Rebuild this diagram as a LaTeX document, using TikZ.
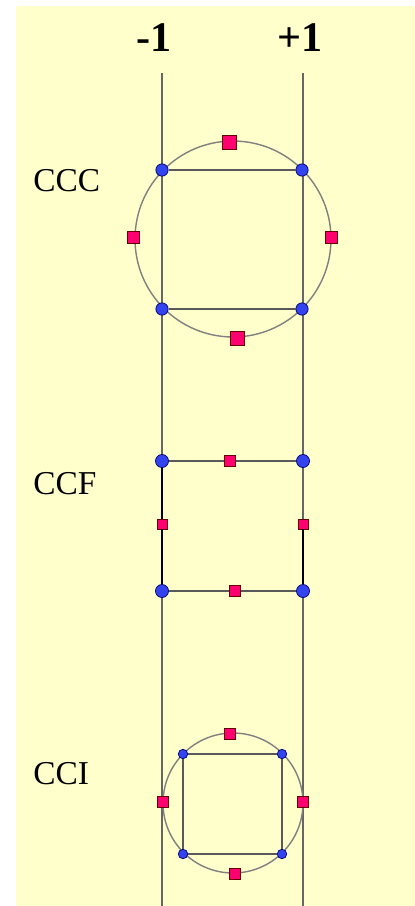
\documentclass[tikz,border=0pt]{standalone}
\usepackage{fontspec}
\setmainfont{Liberation Serif}
\definecolor{paper}{HTML}{FFFFCC}
\definecolor{dotblue}{HTML}{3344EE}
\definecolor{dotpink}{HTML}{FF0070}
\begin{document}
\begin{tikzpicture}[
    x=0.02cm, y=-0.02cm,
    bnode/.style={circle, draw=blue!45!black, fill=dotblue, inner sep=0pt,
                  minimum size=6.3pt},
    pnode/.style={rectangle, draw=red!40!black, fill=dotpink, inner sep=0pt,
                  minimum size=6.3pt},
    ring/.style={circle, draw=black!50, line width=0.8pt, inner sep=0pt},
    axis/.style={draw=black!60, line width=1pt},
    edge/.style={draw=black!65, line width=0.9pt},
    dark/.style={draw=black, line width=1pt},
    lbl/.style={anchor=west, inner sep=0pt, font=\fontsize{19}{22}\selectfont},
    sgn/.style={inner sep=0pt, font=\bfseries\fontsize{24}{28}\selectfont},
]
\useasboundingbox (0,0) rectangle (415,906);
\fill[white] (0,0) rectangle (415,906);
\fill[paper] (16,6) rectangle (415,906);

% Axis labels and the two vertical lines
\node[sgn] (neg) at (154,37.5) {-1};
\node[sgn] (pos) at (300,37.5) {+1};
\coordinate (negtop) at (162,73);
\coordinate (negbot) at (162,906);
\coordinate (postop) at (303,73);
\coordinate (posbot) at (303,906);
\draw[axis] (negtop) -- (negbot);
\draw[axis] (postop) -- (posbot);

% Row labels
\node[lbl] (ccc) at (33,181) {CCC};
\node[lbl] (ccf) at (33,484) {CCF};
\node[lbl] (cci) at (33,774) {CCI};

% CCC: circumscribed
\node[ring, minimum size=3.92cm] (cccring) at (233,239) {};
\node[bnode, minimum size=7pt] (cTL) at (162,170) {};
\node[bnode, minimum size=7pt] (cTR) at (302,170) {};
\node[bnode, minimum size=7pt] (cBL) at (162,309) {};
\node[bnode, minimum size=7pt] (cBR) at (302,309) {};
\node[pnode, minimum size=7.8pt] (cT) at (229,142) {};
\node[pnode, minimum size=7.8pt] (cB) at (237,338) {};
\node[pnode, minimum size=7pt] (cL) at (133,237) {};
\node[pnode, minimum size=7pt] (cR) at (331,237) {};
\draw[edge] (cTL) -- (cTR);
\draw[edge] (cBL) -- (cBR);

% CCF: face centred
\node[bnode, minimum size=7.4pt] (fTL) at (162,461) {};
\node[bnode, minimum size=7.4pt] (fTR) at (303,461) {};
\node[bnode, minimum size=7.4pt] (fBL) at (162,591) {};
\node[bnode, minimum size=7.4pt] (fBR) at (303,591) {};
\node[pnode, minimum size=6pt] (fT) at (230,461) {};
\node[pnode, minimum size=6pt] (fB) at (235,591) {};
\node[pnode, minimum size=5.7pt] (fL) at (162,524) {};
\node[pnode, minimum size=5.7pt] (fR) at (303,524) {};
\draw[edge] (fTL) -- (fT) -- (fTR);
\draw[edge] (fBL) -- (fB) -- (fBR);
\draw[dark] (fTL) -- (fL) -- (fBL);
\draw[dark] (fR) -- (fBR);

% CCI: inscribed
\node[ring, minimum size=2.8cm] (ciring) at (233,803) {};
\node[bnode, minimum size=5.4pt] (iTL) at (183,754) {};
\node[bnode, minimum size=5.4pt] (iTR) at (282,754) {};
\node[bnode, minimum size=5.4pt] (iBL) at (183,854) {};
\node[bnode, minimum size=5.4pt] (iBR) at (282,854) {};
\node[pnode] (iT) at (230,734) {};
\node[pnode] (iB) at (235,874) {};
\node[pnode] (iL) at (163,802) {};
\node[pnode] (iR) at (303,802) {};
\draw[edge] (iTL) -- (iTR) -- (iBR) -- (iBL) -- (iTL);
\end{tikzpicture}
\end{document}
